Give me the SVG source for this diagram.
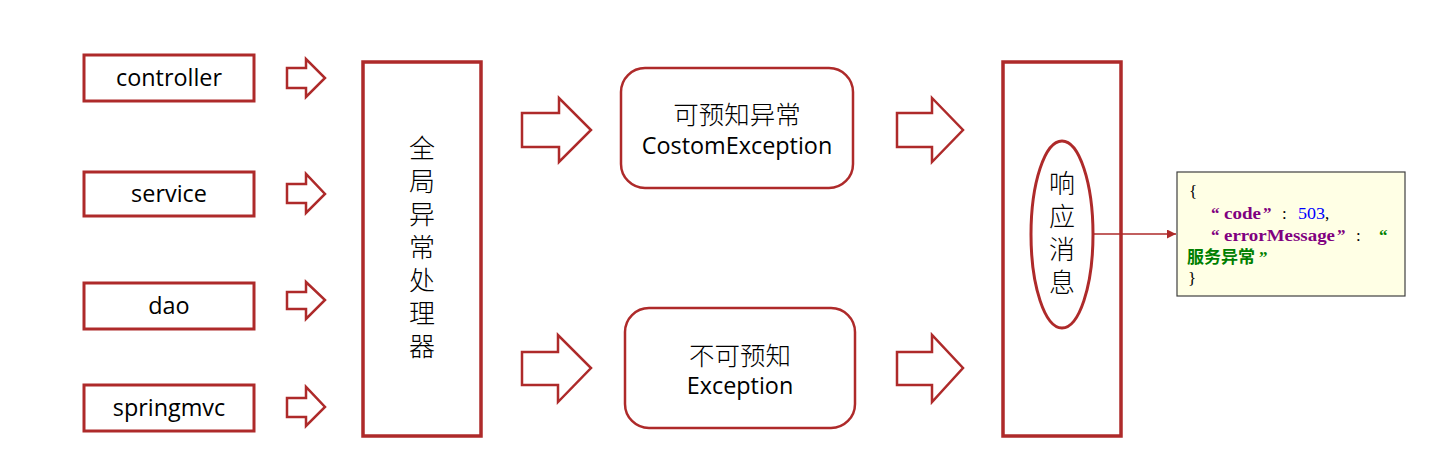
<svg xmlns="http://www.w3.org/2000/svg" width="1447" height="455" viewBox="0 0 1447 455">
  <defs>
    <style>
      .box { fill: #fff; stroke: #AE2A2A; stroke-width: 3; }
      .big { fill: #fff; stroke: #AE2A2A; stroke-width: 3.5; }
      .rr { fill: #fff; stroke: #AE2A2A; stroke-width: 2.5; }
      .barrow { fill: #fff; stroke: #AE2A2A; stroke-width: 2.5; stroke-linejoin: miter; }
      .lat { font-family: "Open Sans", "Liberation Sans", sans-serif; font-size: 23.4px; fill: #000; text-anchor: middle; }
      .cjk { font-family: "Noto Sans CJK SC", sans-serif; font-size: 26px; fill: #000; text-anchor: middle; font-weight: 300; }
      .vert { writing-mode: vertical-rl; letter-spacing: 7px; }
      .json { font-family: "Liberation Serif", "Noto Sans CJK SC", serif; font-size: 17px; }
      .jcjk { font-family: "Noto Sans CJK SC", sans-serif; font-size: 17px; }
      .pur { fill: #800080; font-weight: bold; }
      .grn { fill: #008000; font-weight: bold; }
      .blu { fill: #0000FF; }
      .blk { fill: #000; }
    </style>
    <marker id="ah" viewBox="0 0 10 10" refX="10" refY="5" markerWidth="10" markerHeight="9" markerUnits="userSpaceOnUse" orient="auto">
      <path d="M0,0 L10,5 L0,10 z" fill="#AE2A2A"/>
    </marker>
  </defs>

  <g id="controller">
    <rect class="box" x="84" y="55" width="170" height="46"/>
    <text class="lat" x="169" y="86">controller</text>
  </g>
  <g id="service">
    <rect class="box" x="84" y="172" width="170" height="44"/>
    <text class="lat" x="169" y="202">service</text>
  </g>
  <g id="dao">
    <rect class="box" x="84" y="283" width="170" height="46"/>
    <text class="lat" x="169" y="314">dao</text>
  </g>
  <g id="springmvc">
    <rect class="box" x="84" y="385" width="170" height="46"/>
    <text class="lat" x="169" y="416">springmvc</text>
  </g>

  <g id="global-handler">
    <rect class="big" x="363" y="62" width="118" height="374"/>
    <text class="cjk vert" x="422" y="251">全局异常处理器</text>
  </g>

  <g id="known-exception">
    <rect class="rr" x="621" y="68" width="232" height="120" rx="24" ry="24"/>
    <text class="cjk" x="737" y="124" style="font-size:25.5px">可预知异常</text>
    <text class="lat" x="737" y="153.5">CostomException</text>
  </g>

  <g id="unknown-exception">
    <rect class="rr" x="625" y="308" width="230" height="120" rx="24" ry="24"/>
    <text class="cjk" x="740" y="364.5" style="font-size:25.5px">不可预知</text>
    <text class="lat" x="740" y="394">Exception</text>
  </g>

  <g id="response">
    <rect class="big" x="1003" y="62" width="118" height="374"/>
    <ellipse cx="1062" cy="234.5" rx="31" ry="93.5" fill="#fff" stroke="#AE2A2A" stroke-width="3"/>
    <text class="cjk vert" x="1062" y="236">响应消息</text>
  </g>

  <g id="json-note">
    <rect x="1177" y="172" width="228" height="124" fill="#FFFFE5" stroke="#404040" stroke-width="1.2"/>
    <text class="json">
      <tspan class="blk" x="1189" y="197">{</tspan>
      <tspan class="pur" x="1211" y="219">“</tspan><tspan class="pur" x="1224" y="219" textLength="37" lengthAdjust="spacingAndGlyphs">code</tspan><tspan class="pur" x="1263" y="219">”</tspan><tspan class="blk" x="1282" y="219">:</tspan><tspan class="blu" x="1298" y="219" textLength="27" lengthAdjust="spacingAndGlyphs">503</tspan><tspan class="blk" x="1325" y="219">,</tspan>
      <tspan class="pur" x="1211" y="241">“</tspan><tspan class="pur" x="1224" y="241" textLength="111" lengthAdjust="spacingAndGlyphs">errorMessage</tspan><tspan class="pur" x="1337" y="241">”</tspan><tspan class="blk" x="1356" y="241">:</tspan><tspan class="grn" x="1379" y="241">“</tspan>
      <tspan class="grn jcjk" x="1187" y="263">服务异常</tspan><tspan class="grn" x="1259" y="263">”</tspan>
      <tspan class="blk" x="1188" y="284">}</tspan>
    </text>
  </g>

  <g id="connectors">
    <polygon class="barrow" points="287,68 306,68 306,59 325,78 306,97 306,88 287,88"/>
    <polygon class="barrow" points="287,184 306,184 306,174 325,194 306,213 306,203 287,203"/>
    <polygon class="barrow" points="287,292 306,292 306,282 325,300 306,319 306,309 287,309"/>
    <polygon class="barrow" points="287,398 306,398 306,387 325,407 306,426 306,417 287,417"/>
    <polygon class="barrow" points="522,113 559,113 559,98 591,130 559,162 559,147 522,147"/>
    <polygon class="barrow" points="522,352 558,352 558,335 591,368 558,402 558,385 522,385"/>
    <polygon class="barrow" points="897,113 932,113 932,98 963,130 932,162 932,147 897,147"/>
    <polygon class="barrow" points="897,352 932,352 932,335 963,368 932,402 932,385 897,385"/>
    <line x1="1093" y1="234" x2="1176" y2="234" stroke="#AE2A2A" stroke-width="1.3" marker-end="url(#ah)"/>
  </g>
</svg>
